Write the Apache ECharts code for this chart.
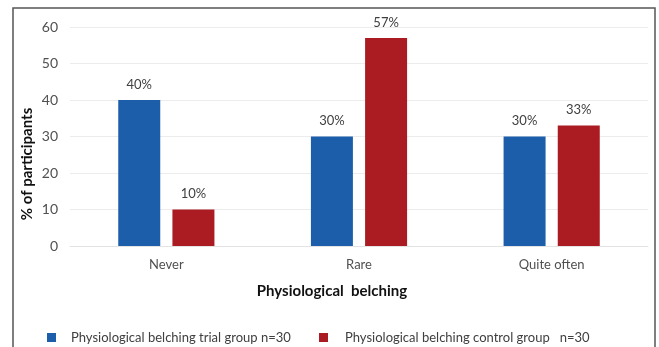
<!DOCTYPE html>
<html>
<head>
<meta charset="utf-8">
<script src="https://cdn.jsdelivr.net/npm/echarts@6/dist/echarts.min.js"></script>
<style>
  html, body { margin: 0; padding: 0; background: #fff; }
  #chart { width: 659px; height: 347px; }
</style>
</head>
<body>
<div id="chart"></div>
<script>
// data
var categories = ["Never", "Rare", "Quite often"];
var trialValues = [40, 30, 30];
var controlValues = [10, 57, 33];
var trialName = "Physiological belching trial group n=30";
var controlName = "Physiological belching control group   n=30";
var yTicks = [0, 10, 20, 30, 40, 50, 60];

var font = "Lato, 'Open Sans', sans-serif";
var blue = "#1c5ea9";
var red = "#aa1b22";

var chart = echarts.init(document.getElementById("chart"));

var option = {
  animation: false,
  textStyle: { fontFamily: font },
  grid: { left: 70, right: 11, top: 27, bottom: 101 },
  legend: [
    {
      data: [trialName],
      left: 42, top: 326,
      itemWidth: 9, itemHeight: 9,
      icon: "rect",
      textStyle: { fontSize: 13, color: "#404040", fontFamily: font, padding: [0, 0, 0, 10] }
    },
    {
      data: [controlName],
      left: 314, top: 326,
      itemWidth: 9, itemHeight: 9,
      icon: "rect",
      textStyle: { fontSize: 13, color: "#404040", fontFamily: font, padding: [0, 0, 0, 12] }
    }
  ],
  xAxis: {
    type: "category",
    data: categories,
    axisLine: { lineStyle: { color: "#e3e3e3" } },
    axisTick: { show: false },
    axisLabel: { color: "#505050", fontSize: 13, margin: 12, fontFamily: font }
  },
  yAxis: {
    type: "value",
    min: yTicks[0],
    max: yTicks[yTicks.length - 1],
    interval: 10,
    axisLine: { show: false },
    axisTick: { show: false },
    axisLabel: { color: "#505050", fontSize: 14, margin: 12, fontFamily: font },
    splitLine: { lineStyle: { color: "#ececec" } }
  },
  series: [
    {
      name: trialName,
      type: "bar",
      data: trialValues,
      barWidth: 42,
      barGap: "29%",
      itemStyle: { color: blue },
      label: {
        show: true, position: "top", distance: 9,
        formatter: "{c}%", color: "#404040", fontSize: 13, fontFamily: font
      }
    },
    {
      name: controlName,
      type: "bar",
      data: controlValues,
      barWidth: 42,
      itemStyle: { color: red },
      label: {
        show: true, position: "top", distance: 9,
        formatter: "{c}%", color: "#404040", fontSize: 13, fontFamily: font
      }
    }
  ],
  graphic: [
    {
      type: "rect",
      shape: { x: 13, y: 8, width: 642, height: 360 },
      style: { fill: null, stroke: "#555", lineWidth: 1.5 },
      silent: true
    },
    {
      type: "text",
      x: 27, y: 164,
      rotation: Math.PI / 2,
      style: {
        text: "% of participants",
        font: "bold 15px " + font,
        fill: "#111",
        textAlign: "center",
        textVerticalAlign: "middle"
      }
    },
    {
      type: "text",
      x: 332, y: 291,
      style: {
        text: "Physiological  belching",
        font: "bold 15px " + font,
        fill: "#111",
        textAlign: "center",
        textVerticalAlign: "middle"
      }
    }
  ]
};

chart.setOption(option);
</script>
</body>
</html>
